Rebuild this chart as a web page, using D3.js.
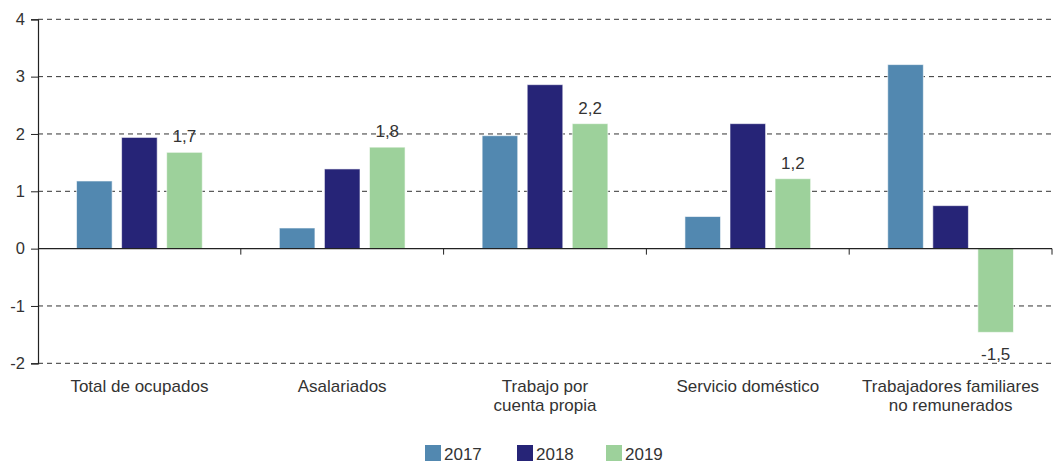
<!DOCTYPE html>
<html>
<head>
<meta charset="utf-8">
<script src="https://cdn.jsdelivr.net/npm/d3@7"></script>
<style>
  body { margin: 0; background: #fff; }
  svg { display: block; font-family: 'Liberation Sans', Arial, sans-serif; }
</style>
</head>
<body>
<div id="chart"></div>
<script>
// categories and series
const categories = [
  ['Total de ocupados'],
  ['Asalariados'],
  ['Trabajo por', 'cuenta propia'],
  ['Servicio doméstico'],
  ['Trabajadores familiares', 'no remunerados']
];
const years = ['2017', '2018', '2019'];
const values2017 = [1.18, 0.36, 1.97, 0.56, 3.21];
const values2018 = [1.94, 1.39, 2.86, 2.18, 0.75];
const values2019 = [1.68, 1.77, 2.18, 1.22, -1.46];
const labels2019 = ['1,7', '1,8', '2,2', '1,2', '-1,5'];
const yTicks = [-2, -1, 0, 1, 2, 3, 4];
const colors = ['#5288b0', '#262477', '#9dd19b'];

const W = 1057, H = 463;
const margin = { top: 19, right: 5, bottom: 100, left: 38 };
const plotRight = 1052;

const svg = d3.select('#chart').append('svg')
    .attr('width', W)
    .attr('height', H);

const y = d3.scaleLinear().domain([-2, 4]).range([363.3, 19.3]);

const x0 = d3.scaleBand()
    .domain(d3.range(categories.length))
    .range([margin.left, plotRight])
    .paddingInner(0.38)
    .paddingOuter(0.19);

const x1 = d3.scaleBand()
    .domain(years)
    .range([0, x0.bandwidth()])
    .paddingInner(0.21);

const series = [values2017, values2018, values2019];

// dashed gridlines
svg.append('g')
  .selectAll('line')
  .data(yTicks.filter(d => d !== 0))
  .join('line')
    .attr('x1', margin.left)
    .attr('x2', 1055)
    .attr('y1', d => y(d))
    .attr('y2', d => y(d))
    .attr('stroke', '#333')
    .attr('stroke-width', 1)
    .attr('stroke-dasharray', '5,4');

// y axis
const yAxis = svg.append('g')
    .attr('transform', `translate(${margin.left},0)`)
    .call(d3.axisLeft(y).tickValues(yTicks).tickSize(7).tickPadding(6).tickFormat(d3.format('d')));
yAxis.select('.domain').attr('stroke', '#222').attr('stroke-width', 1.2);
yAxis.selectAll('.tick line').attr('stroke', '#222');
yAxis.selectAll('.tick text')
    .attr('font-size', 16.5)
    .attr('fill', '#333')
    .text(d => d < 0 ? '-' + Math.abs(d) : d);

// bars
const groups = svg.append('g')
  .selectAll('g')
  .data(series)
  .join('g')
    .attr('fill', (d, i) => colors[i]);

groups.each(function(vals, si) {
  d3.select(this).selectAll('rect')
    .data(vals)
    .join('rect')
      .attr('x', (d, ci) => x0(ci) + x1(years[si]))
      .attr('width', x1.bandwidth())
      .attr('y', d => y(Math.max(0, d)))
      .attr('height', d => Math.abs(y(d) - y(0)))
      .attr('stroke', 'rgba(255,255,255,0.6)')
      .attr('stroke-width', 1);
});

// zero line with category ticks
svg.append('line')
    .attr('x1', margin.left)
    .attr('x2', plotRight)
    .attr('y1', y(0))
    .attr('y2', y(0))
    .attr('stroke', '#222')
    .attr('stroke-width', 1.2);

const boundaries = d3.range(categories.length + 1).map(i => margin.left + i * x0.step());
svg.append('g')
  .selectAll('line')
  .data(boundaries.slice(1))
  .join('line')
    .attr('x1', d => d)
    .attr('x2', d => d)
    .attr('y1', y(0))
    .attr('y2', y(0) + 6)
    .attr('stroke', '#222')
    .attr('stroke-width', 1);

// 2019 value labels
svg.append('g')
  .selectAll('text')
  .data(values2019)
  .join('text')
    .attr('x', (d, ci) => x0(ci) + x1('2019') + x1.bandwidth() / 2)
    .attr('y', d => d >= 0 ? y(d) - 10 : y(d) + 28)
    .attr('text-anchor', 'middle')
    .attr('font-size', 17)
    .attr('fill', '#333')
    .text((d, i) => labels2019[i]);

// category labels
const catLabels = svg.append('g')
  .selectAll('text')
  .data(categories)
  .join('text')
    .attr('x', (d, i) => x0(i) + x0.bandwidth() / 2)
    .attr('y', 392)
    .attr('text-anchor', 'middle')
    .attr('font-size', 17)
    .attr('fill', '#333');

catLabels.selectAll('tspan')
  .data(d => d)
  .join('tspan')
    .attr('x', function() { return d3.select(this.parentNode).attr('x'); })
    .attr('dy', (d, i) => i === 0 ? 0 : 18.5)
    .text(d => d);

// legend
const legendX = [425, 517, 606];
const legend = svg.append('g')
  .selectAll('g')
  .data(years)
  .join('g')
    .attr('transform', (d, i) => `translate(${legendX[i]},445)`);

legend.append('rect')
    .attr('width', 16)
    .attr('height', 16)
    .attr('fill', (d, i) => colors[i]);

legend.append('text')
    .attr('x', 19)
    .attr('y', 15)
    .attr('font-size', 17)
    .attr('fill', '#333')
    .text(d => d);
</script>
</body>
</html>
